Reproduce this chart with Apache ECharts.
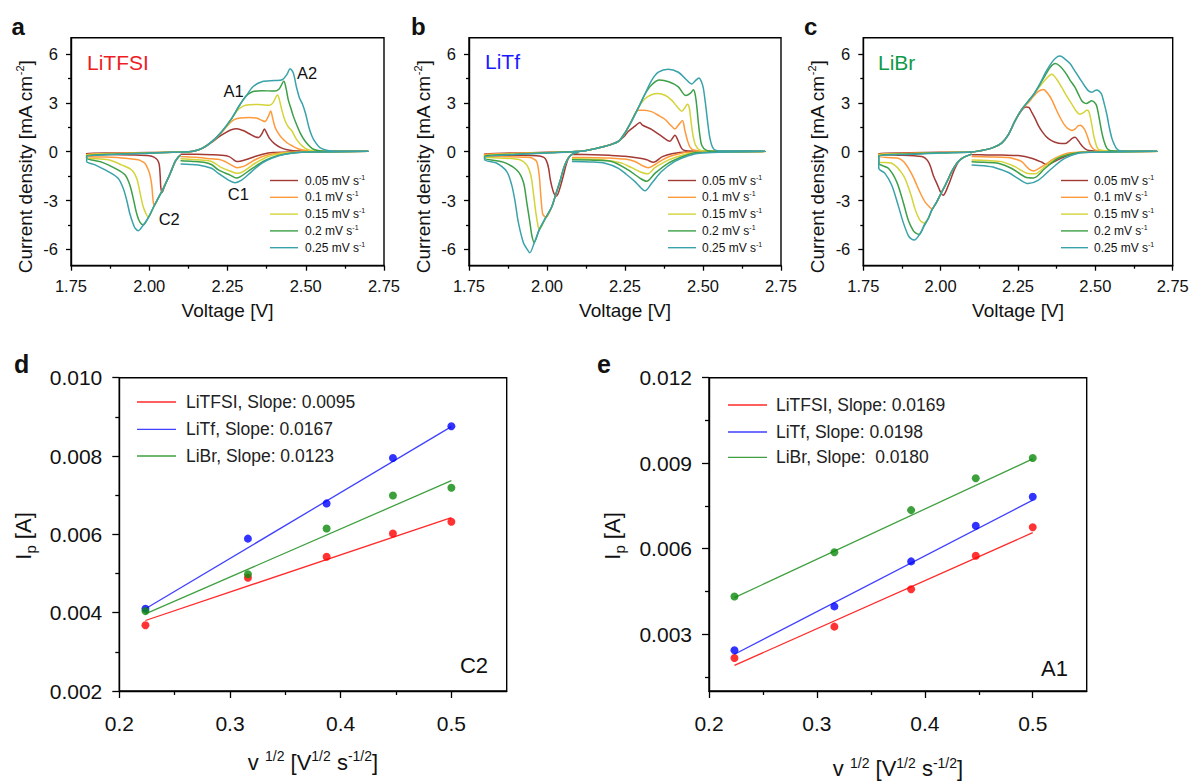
<!DOCTYPE html>
<html><head><meta charset="utf-8">
<script src="https://cdn.jsdelivr.net/npm/echarts@6/dist/echarts.min.js"></script>
<style>html,body{margin:0;padding:0;background:#fff}#c{width:1195px;height:781px}</style>
</head><body><div id="c"></div>
<script>
// ---------------- DATA ----------------
const scanRates = ['0.05', '0.1', '0.15', '0.2', '0.25'];
const electrolytes = ['LiTFSI', 'LiTf', 'LiBr'];

// Panel a: LiTFSI CV curves [V, mA cm-2]
const litfsi_005 = [[2.100,-0.20],[2.093,-0.33],[2.083,-0.60],[2.072,-1.10],[2.061,-1.60],[2.050,-2.05],[2.041,-2.50],[2.037,-2.20],[2.035,-1.50],[2.032,-0.80],[2.026,-0.50],[2.015,-0.33],[2.000,-0.25],[1.950,-0.20],[1.880,-0.17],[1.800,-0.15],
 [1.800,-0.10],[1.900,-0.08],[2.000,-0.05],[2.100,-0.02],[2.140,0.03],[2.170,0.20],[2.200,0.58],[2.220,0.88],[2.240,1.12],[2.260,1.33],[2.280,1.41],[2.300,1.30],[2.320,1.10],[2.340,0.90],[2.350,0.87],[2.360,1.10],[2.368,1.39],[2.375,1.15],[2.385,0.80],[2.400,0.50],[2.420,0.25],[2.440,0.12],[2.480,0.04],[2.600,0.02],[2.700,0.02],
 [2.700,0.00],[2.450,-0.02],[2.400,-0.05],[2.380,-0.08],[2.340,-0.28],[2.310,-0.48],[2.290,-0.58],[2.280,-0.60],[2.270,-0.50],[2.255,-0.30],[2.230,-0.22],[2.200,-0.19],[2.150,-0.16],[2.100,-0.15]];
const litfsi_01 = [[2.100,-0.20],[2.093,-0.33],[2.083,-0.60],[2.072,-1.10],[2.061,-1.60],[2.050,-2.05],[2.040,-2.45],[2.030,-2.80],[2.016,-3.30],[2.012,-2.95],[2.008,-2.05],[2.003,-1.50],[1.999,-1.22],[1.993,-0.95],[1.986,-0.71],[1.975,-0.58],[1.965,-0.50],[1.923,-0.40],[1.860,-0.33],[1.800,-0.29],
 [1.800,-0.15],[1.900,-0.10],[2.000,-0.06],[2.100,-0.02],[2.140,0.03],[2.170,0.22],[2.200,0.62],[2.230,1.15],[2.250,1.60],[2.270,1.95],[2.290,2.07],[2.320,2.10],[2.345,2.05],[2.360,1.92],[2.370,1.85],[2.380,2.15],[2.388,2.50],[2.395,2.00],[2.402,1.50],[2.410,1.20],[2.423,0.85],[2.440,0.55],[2.455,0.38],[2.475,0.18],[2.500,0.07],[2.550,0.03],[2.700,0.02],
 [2.700,0.00],[2.500,-0.02],[2.430,-0.05],[2.380,-0.19],[2.340,-0.48],[2.310,-0.82],[2.290,-0.96],[2.280,-0.98],[2.265,-0.85],[2.242,-0.60],[2.220,-0.47],[2.199,-0.44],[2.150,-0.34],[2.100,-0.29]];
const litfsi_015 = [[2.100,-0.20],[2.093,-0.33],[2.083,-0.60],[2.072,-1.10],[2.061,-1.60],[2.050,-2.05],[2.040,-2.45],[2.030,-2.80],[2.015,-3.35],[1.997,-4.02],[1.992,-3.90],[1.981,-3.40],[1.970,-2.47],[1.960,-1.64],[1.944,-1.12],[1.912,-0.81],[1.869,-0.50],[1.800,-0.35],
 [1.800,-0.20],[1.900,-0.12],[2.000,-0.07],[2.100,-0.02],[2.140,0.03],[2.170,0.22],[2.200,0.62],[2.230,1.20],[2.260,1.90],[2.280,2.50],[2.300,2.80],[2.320,2.88],[2.350,2.90],[2.385,2.85],[2.395,3.00],[2.410,3.48],[2.417,3.10],[2.423,2.60],[2.434,1.90],[2.445,1.50],[2.455,1.30],[2.471,0.74],[2.490,0.33],[2.510,0.10],[2.550,0.03],[2.700,0.02],
 [2.700,0.00],[2.500,-0.02],[2.434,-0.08],[2.380,-0.29],[2.338,-0.71],[2.300,-1.22],[2.280,-1.33],[2.260,-1.20],[2.231,-0.98],[2.199,-0.60],[2.150,-0.50],[2.100,-0.44]];
const litfsi_02 = [[2.100,-0.20],[2.093,-0.33],[2.083,-0.60],[2.072,-1.10],[2.061,-1.60],[2.050,-2.05],[2.040,-2.45],[2.030,-2.80],[2.015,-3.35],[1.997,-4.05],[1.981,-4.49],[1.970,-4.33],[1.960,-3.81],[1.949,-2.88],[1.938,-2.05],[1.923,-1.43],[1.891,-1.02],[1.848,-0.64],[1.800,-0.40],
 [1.800,-0.25],[1.900,-0.14],[2.000,-0.08],[2.100,-0.02],[2.140,0.03],[2.170,0.22],[2.200,0.62],[2.230,1.20],[2.260,1.95],[2.290,2.90],[2.310,3.43],[2.330,3.68],[2.360,3.75],[2.400,3.72],[2.415,3.85],[2.430,4.32],[2.437,3.90],[2.444,3.20],[2.452,2.70],[2.460,2.20],[2.470,1.70],[2.482,1.16],[2.500,0.60],[2.525,0.15],[2.560,0.03],[2.700,0.02],
 [2.700,0.00],[2.520,-0.02],[2.466,-0.06],[2.412,-0.23],[2.370,-0.54],[2.327,-1.06],[2.290,-1.55],[2.278,-1.62],[2.260,-1.45],[2.221,-1.12],[2.200,-0.80],[2.178,-0.67],[2.140,-0.60],[2.100,-0.56]];
const litfsi_025 = [[2.100,-0.20],[2.093,-0.33],[2.083,-0.60],[2.072,-1.10],[2.061,-1.60],[2.050,-2.05],[2.040,-2.45],[2.030,-2.80],[2.015,-3.35],[1.997,-4.05],[1.981,-4.50],[1.965,-4.85],[1.955,-4.70],[1.949,-4.45],[1.938,-3.81],[1.928,-2.98],[1.917,-2.26],[1.901,-1.64],[1.869,-1.22],[1.827,-0.81],[1.800,-0.60],
 [1.800,-0.30],[1.900,-0.16],[2.000,-0.09],[2.100,-0.02],[2.140,0.03],[2.170,0.22],[2.200,0.62],[2.230,1.20],[2.260,1.95],[2.290,2.90],[2.310,3.43],[2.332,4.00],[2.360,4.30],[2.400,4.37],[2.425,4.42],[2.440,4.75],[2.450,5.09],[2.460,4.85],[2.470,4.00],[2.480,3.30],[2.490,2.90],[2.500,2.30],[2.510,1.50],[2.520,0.95],[2.530,0.60],[2.545,0.25],[2.570,0.08],[2.600,0.03],[2.700,0.02],
 [2.700,0.00],[2.530,-0.02],[2.487,-0.03],[2.434,-0.15],[2.391,-0.40],[2.359,-0.71],[2.327,-1.22],[2.295,-1.74],[2.274,-1.90],[2.253,-1.74],[2.221,-1.33],[2.199,-1.02],[2.157,-0.81],[2.100,-0.75]];

// Panel b: LiTf CV curves
const litf_005 = [[2.100,-0.05],[2.085,-0.12],[2.072,-0.30],[2.062,-0.75],[2.052,-1.50],[2.042,-2.20],[2.035,-2.60],[2.029,-2.73],[2.022,-2.55],[2.015,-2.10],[2.010,-1.64],[2.005,-1.00],[1.998,-0.55],[1.990,-0.35],[1.967,-0.25],[1.900,-0.22],[1.800,-0.19],
 [1.800,-0.12],[1.900,-0.08],[2.000,-0.04],[2.080,0.00],[2.122,0.06],[2.186,0.33],[2.229,0.64],[2.250,1.00],[2.261,1.26],[2.282,1.57],[2.298,1.80],[2.305,1.65],[2.320,1.50],[2.335,1.37],[2.367,0.95],[2.394,0.64],[2.403,0.85],[2.410,1.01],[2.415,0.90],[2.421,0.64],[2.432,0.19],[2.445,0.06],[2.500,0.03],[2.700,0.02],
 [2.700,0.00],[2.450,-0.02],[2.400,-0.12],[2.370,-0.30],[2.341,-0.65],[2.320,-0.50],[2.293,-0.39],[2.250,-0.28],[2.200,-0.22],[2.150,-0.18],[2.080,-0.15]];
const litf_01 = [[2.100,-0.03],[2.085,-0.10],[2.072,-0.30],[2.062,-0.60],[2.052,-1.10],[2.042,-1.80],[2.030,-2.50],[2.015,-3.40],[1.996,-4.05],[1.993,-4.00],[1.986,-3.81],[1.980,-2.67],[1.975,-1.43],[1.967,-0.60],[1.955,-0.42],[1.946,-0.35],[1.850,-0.30],[1.800,-0.27],
 [1.800,-0.17],[1.900,-0.10],[2.000,-0.05],[2.080,0.00],[2.122,0.06],[2.186,0.33],[2.229,0.64],[2.250,1.16],[2.271,1.88],[2.285,2.45],[2.295,2.55],[2.310,2.55],[2.335,2.46],[2.360,2.20],[2.378,1.99],[2.395,1.65],[2.410,1.40],[2.422,1.65],[2.434,1.92],[2.442,1.30],[2.450,0.70],[2.458,0.30],[2.470,0.10],[2.500,0.03],[2.700,0.02],
 [2.700,0.00],[2.450,-0.03],[2.400,-0.25],[2.370,-0.50],[2.345,-0.80],[2.325,-0.98],[2.305,-0.85],[2.282,-0.60],[2.250,-0.45],[2.200,-0.39],[2.150,-0.37],[2.080,-0.35]];
const litf_015 = [[2.100,-0.03],[2.085,-0.10],[2.072,-0.30],[2.062,-0.60],[2.052,-1.10],[2.042,-1.80],[2.030,-2.50],[2.015,-3.40],[1.996,-4.05],[1.975,-4.78],[1.972,-4.64],[1.964,-3.71],[1.956,-2.47],[1.948,-1.43],[1.935,-0.81],[1.913,-0.50],[1.850,-0.38],[1.800,-0.33],
 [1.800,-0.22],[1.900,-0.13],[2.000,-0.06],[2.080,0.00],[2.122,0.06],[2.186,0.33],[2.229,0.64],[2.250,1.16],[2.271,1.88],[2.293,2.71],[2.314,3.25],[2.335,3.50],[2.355,3.58],[2.380,3.45],[2.400,3.15],[2.420,2.70],[2.432,2.48],[2.442,2.70],[2.450,2.92],[2.456,2.70],[2.462,1.80],[2.468,1.00],[2.476,0.40],[2.490,0.10],[2.520,0.03],[2.700,0.02],
 [2.700,0.00],[2.470,-0.05],[2.440,-0.19],[2.390,-0.50],[2.346,-0.98],[2.322,-1.36],[2.300,-1.25],[2.271,-0.98],[2.240,-0.70],[2.200,-0.55],[2.150,-0.47],[2.080,-0.44]];
const litf_02 = [[2.100,-0.03],[2.085,-0.10],[2.072,-0.30],[2.062,-0.60],[2.052,-1.10],[2.042,-1.80],[2.030,-2.50],[2.015,-3.40],[1.996,-4.05],[1.975,-4.80],[1.959,-5.57],[1.952,-5.20],[1.945,-4.33],[1.935,-3.09],[1.924,-1.84],[1.903,-1.12],[1.860,-0.64],[1.800,-0.40],
 [1.800,-0.27],[1.900,-0.15],[2.000,-0.07],[2.080,0.00],[2.122,0.06],[2.186,0.33],[2.229,0.64],[2.250,1.16],[2.271,1.88],[2.293,2.71],[2.314,3.54],[2.335,4.10],[2.360,4.40],[2.390,4.30],[2.420,4.00],[2.445,3.45],[2.460,3.60],[2.469,3.80],[2.475,3.50],[2.480,2.80],[2.485,1.80],[2.490,1.00],[2.496,0.40],[2.510,0.10],[2.540,0.03],[2.700,0.02],
 [2.700,0.00],[2.480,-0.05],[2.442,-0.25],[2.389,-0.70],[2.346,-1.33],[2.319,-1.82],[2.300,-1.65],[2.260,-1.12],[2.207,-0.60],[2.150,-0.52],[2.080,-0.50]];
const litf_025 = [[2.100,-0.03],[2.085,-0.10],[2.072,-0.30],[2.062,-0.60],[2.052,-1.10],[2.042,-1.80],[2.030,-2.50],[2.015,-3.40],[1.996,-4.05],[1.975,-4.80],[1.959,-5.60],[1.945,-6.20],[1.935,-5.95],[1.924,-5.57],[1.908,-4.33],[1.898,-3.09],[1.887,-2.05],[1.871,-1.22],[1.839,-0.71],[1.800,-0.50],
 [1.800,-0.32],[1.900,-0.17],[2.000,-0.08],[2.080,0.00],[2.122,0.06],[2.186,0.33],[2.229,0.64],[2.250,1.16],[2.271,1.88],[2.293,2.71],[2.314,3.54],[2.335,4.37],[2.357,4.88],[2.389,5.07],[2.421,4.88],[2.445,4.45],[2.464,4.16],[2.475,4.35],[2.487,4.53],[2.495,4.30],[2.501,3.90],[2.507,3.10],[2.512,2.30],[2.517,1.50],[2.522,0.85],[2.528,0.40],[2.535,0.15],[2.550,0.05],[2.700,0.03],
 [2.700,0.00],[2.496,-0.08],[2.453,-0.25],[2.410,-0.60],[2.367,-1.22],[2.335,-1.95],[2.314,-2.40],[2.295,-2.10],[2.282,-1.84],[2.255,-1.40],[2.229,-1.02],[2.186,-0.71],[2.140,-0.63],[2.080,-0.60]];

// Panel c: LiBr CV curves
const libr_005 = [[2.100,-0.15],[2.079,-0.30],[2.063,-0.50],[2.046,-1.02],[2.025,-2.06],[2.008,-2.68],[2.000,-2.50],[1.990,-2.05],[1.976,-1.44],[1.968,-0.95],[1.960,-0.61],[1.950,-0.40],[1.939,-0.30],[1.850,-0.20],[1.800,-0.15],
 [1.800,-0.10],[1.900,-0.07],[2.000,-0.04],[2.100,-0.02],[2.125,0.05],[2.165,0.22],[2.197,0.53],[2.219,1.05],[2.240,1.88],[2.262,2.55],[2.275,2.75],[2.285,2.72],[2.295,2.40],[2.305,2.05],[2.316,1.60],[2.327,1.26],[2.340,0.95],[2.353,0.74],[2.370,0.58],[2.390,0.50],[2.402,0.50],[2.415,0.65],[2.424,0.80],[2.434,0.88],[2.442,0.75],[2.450,0.53],[2.458,0.33],[2.467,0.18],[2.480,0.07],[2.520,0.03],[2.700,0.02],
 [2.700,0.00],[2.460,-0.02],[2.413,-0.22],[2.380,-0.49],[2.353,-0.75],[2.340,-0.78],[2.327,-0.65],[2.294,-0.40],[2.251,-0.24],[2.200,-0.21],[2.150,-0.20],[2.100,-0.18]];
const libr_01 = [[2.100,-0.15],[2.079,-0.30],[2.068,-0.42],[2.057,-0.60],[2.047,-0.85],[2.036,-1.20],[2.025,-1.65],[2.014,-2.10],[2.000,-2.60],[1.987,-3.10],[1.971,-3.50],[1.962,-3.35],[1.950,-3.10],[1.936,-2.60],[1.923,-2.06],[1.910,-1.50],[1.896,-1.02],[1.880,-0.60],[1.863,-0.40],[1.800,-0.30],
 [1.800,-0.15],[1.900,-0.10],[2.000,-0.05],[2.100,-0.02],[2.125,0.05],[2.165,0.22],[2.197,0.53],[2.219,1.05],[2.240,1.88],[2.262,2.60],[2.283,3.00],[2.300,3.40],[2.316,3.70],[2.332,3.82],[2.345,3.60],[2.359,3.20],[2.372,2.65],[2.386,2.10],[2.400,1.65],[2.413,1.40],[2.425,1.30],[2.435,1.40],[2.445,1.60],[2.452,1.62],[2.460,1.50],[2.467,1.30],[2.475,0.90],[2.483,0.45],[2.492,0.20],[2.505,0.08],[2.540,0.03],[2.700,0.02],
 [2.700,0.00],[2.470,-0.02],[2.410,-0.09],[2.370,-0.40],[2.327,-0.92],[2.300,-1.18],[2.285,-1.05],[2.262,-0.61],[2.240,-0.45],[2.219,-0.36],[2.160,-0.32],[2.100,-0.30]];
const libr_015 = [[2.100,-0.15],[2.079,-0.30],[2.068,-0.42],[2.057,-0.60],[2.047,-0.85],[2.036,-1.20],[2.025,-1.65],[2.014,-2.10],[2.000,-2.60],[1.987,-3.10],[1.971,-3.60],[1.960,-4.10],[1.947,-4.38],[1.940,-4.33],[1.933,-4.20],[1.925,-3.90],[1.917,-3.51],[1.901,-2.48],[1.879,-1.44],[1.842,-0.71],[1.800,-0.61],
 [1.800,-0.20],[1.900,-0.12],[2.000,-0.06],[2.100,-0.02],[2.125,0.05],[2.165,0.22],[2.197,0.53],[2.219,1.05],[2.240,1.88],[2.262,2.60],[2.283,3.10],[2.300,3.50],[2.320,4.00],[2.340,4.45],[2.359,4.75],[2.375,4.45],[2.391,3.96],[2.408,3.40],[2.424,2.92],[2.438,2.50],[2.450,2.30],[2.462,2.40],[2.472,2.55],[2.478,2.50],[2.483,2.20],[2.489,1.60],[2.494,1.05],[2.500,0.60],[2.506,0.25],[2.515,0.10],[2.550,0.03],[2.700,0.02],
 [2.700,0.00],[2.480,-0.03],[2.434,-0.08],[2.380,-0.36],[2.343,-0.82],[2.305,-1.36],[2.283,-1.34],[2.240,-0.92],[2.197,-0.61],[2.150,-0.54],[2.100,-0.51]];
const libr_02 = [[2.100,-0.15],[2.079,-0.30],[2.068,-0.42],[2.057,-0.60],[2.047,-0.85],[2.036,-1.20],[2.025,-1.65],[2.014,-2.10],[2.000,-2.60],[1.987,-3.10],[1.971,-3.60],[1.960,-4.10],[1.947,-4.50],[1.931,-5.08],[1.920,-5.00],[1.912,-4.86],[1.896,-4.24],[1.879,-3.10],[1.858,-1.85],[1.831,-1.02],[1.800,-0.71],
 [1.800,-0.25],[1.900,-0.14],[2.000,-0.07],[2.100,-0.02],[2.125,0.05],[2.165,0.22],[2.197,0.53],[2.219,1.05],[2.240,1.88],[2.262,2.60],[2.283,3.10],[2.300,3.50],[2.320,4.10],[2.340,4.75],[2.355,5.20],[2.370,5.41],[2.386,5.25],[2.402,4.89],[2.418,4.40],[2.434,3.96],[2.446,3.50],[2.456,3.13],[2.464,3.00],[2.472,2.96],[2.480,3.05],[2.488,3.13],[2.496,3.05],[2.504,2.82],[2.512,2.10],[2.520,1.26],[2.528,0.65],[2.537,0.22],[2.550,0.06],[2.580,0.03],[2.700,0.02],
 [2.700,0.00],[2.490,-0.03],[2.434,-0.09],[2.380,-0.40],[2.337,-1.03],[2.300,-1.61],[2.273,-1.55],[2.230,-1.03],[2.186,-0.71],[2.140,-0.65],[2.100,-0.62]];
const libr_025 = [[2.100,-0.15],[2.079,-0.30],[2.068,-0.42],[2.057,-0.60],[2.047,-0.85],[2.036,-1.20],[2.025,-1.65],[2.014,-2.10],[2.000,-2.60],[1.987,-3.10],[1.971,-3.60],[1.960,-4.10],[1.947,-4.55],[1.931,-5.10],[1.915,-5.42],[1.905,-5.35],[1.896,-5.17],[1.879,-4.34],[1.863,-3.31],[1.842,-2.06],[1.820,-1.33],[1.800,-1.02],
 [1.800,-0.30],[1.900,-0.16],[2.000,-0.08],[2.100,-0.02],[2.125,0.05],[2.165,0.22],[2.197,0.53],[2.219,1.05],[2.240,1.88],[2.262,2.60],[2.283,3.10],[2.300,3.50],[2.320,4.15],[2.340,4.90],[2.360,5.50],[2.375,5.80],[2.386,5.87],[2.400,5.72],[2.418,5.41],[2.434,4.95],[2.450,4.48],[2.465,4.05],[2.477,3.75],[2.488,3.65],[2.496,3.72],[2.504,3.79],[2.512,3.72],[2.520,3.54],[2.528,3.00],[2.537,2.30],[2.545,1.50],[2.553,0.85],[2.561,0.45],[2.569,0.18],[2.580,0.06],[2.620,0.03],[2.700,0.02],
 [2.700,0.00],[2.500,-0.03],[2.445,-0.09],[2.402,-0.40],[2.359,-1.03],[2.316,-1.75],[2.283,-1.96],[2.251,-1.65],[2.219,-1.28],[2.176,-0.98],[2.140,-0.87],[2.100,-0.82]];

// Panels d/e: square root of scan rate [V^1/2 s^-1/2] and peak currents [A]
const sqrtScanRate = [0.2236, 0.3162, 0.3873, 0.4472, 0.5];
const c2_litfsi = [0.00368, 0.00489, 0.00543, 0.00602, 0.00632];
const c2_litf   = [0.00410, 0.00589, 0.00679, 0.00795, 0.00876];
const c2_libr   = [0.00404, 0.00498, 0.00615, 0.00699, 0.00719];
const a1_litfsi = [0.00216, 0.00326, 0.00457, 0.00575, 0.00675];
const a1_litf   = [0.00243, 0.00397, 0.00555, 0.00680, 0.00782];
const a1_libr   = [0.00432, 0.00587, 0.00735, 0.00847, 0.00918];
// linear fit values at first and last sqrt scan rate
const fitX = [0.2236, 0.5];
const c2_fit_litfsi = [0.00380, 0.00643];
const c2_fit_litf   = [0.00410, 0.00875];
const c2_fit_libr   = [0.00397, 0.00737];
const a1_fit_litfsi = [0.00190, 0.00656];
const a1_fit_litf   = [0.00229, 0.00770];
const a1_fit_libr   = [0.00428, 0.00915];
const c2_slopes = ['0.0095', '0.0167', '0.0123'];
const a1_slopes = ['0.0169', '0.0198', '\u00a00.0180'];

// tick labels
const cvXTicks = [1.75, 2.00, 2.25, 2.50, 2.75];
const cvYTicks = [-6, -3, 0, 3, 6];
const ipXTicks = [0.2, 0.3, 0.4, 0.5];
const c2YTicks = [0.002, 0.004, 0.006, 0.008, 0.010];
const a1YTicks = [0.003, 0.006, 0.009, 0.012];

// ---------------- STYLE / LAYOUT ----------------
const FONT = '"Liberation Sans", Arimo, Arial, Helvetica, sans-serif';
const rateColors = ['#a23a36', '#ff9a3c', '#d4d43a', '#3d9f47', '#3aa2aa'];
const ionColors = {pt: ['#ff0000', '#0000ff', '#0b8a0b'], fit: ['#ff2a2a', '#4040ff', '#40a040']};
const titleColors = ['#ee1c25', '#1a1aff', '#0f9a48'];

const cvSets = [
  [litfsi_005, litfsi_01, litfsi_015, litfsi_02, litfsi_025],
  [litf_005, litf_01, litf_015, litf_02, litf_025],
  [libr_005, libr_01, libr_015, libr_02, libr_025]
];
const grids = [
  {left: 71, top: 37.7, width: 313, height: 228},
  {left: 469, top: 37.7, width: 312, height: 228},
  {left: 863.3, top: 37.7, width: 309.4, height: 228},
  {left: 119.3, top: 377.7, width: 387.4, height: 313.3},
  {left: 709, top: 377.7, width: 377.7, height: 313.3}
];

const xAxes = [], yAxes = [];
function mkAxis(dim, g, s, main) {
  return {
    type: 'value', gridIndex: g, min: s.min, max: s.max,
    position: dim === 'x' ? 'bottom' : 'left',
    axisLine: {show: main, onZero: false, lineStyle: {color: '#000', width: 1.4}},
    axisTick: {show: true, inside: false, customValues: main ? s.major : s.minor, length: main ? s.len : s.mlen, lineStyle: {color: '#000', width: 1.3}},
    axisLabel: {show: main, customValues: s.major, formatter: s.fmt, fontSize: s.font, fontFamily: FONT, color: '#111', margin: s.margin, hideOverlap: false, showMinLabel: true, showMaxLabel: true},
    splitLine: {show: false}, minorTick: {show: false}
  };
}
function addAxes(g, xs, ys) {
  xAxes.push(mkAxis('x', g, xs, true), mkAxis('x', g, xs, false));
  yAxes.push(mkAxis('y', g, ys, true), mkAxis('y', g, ys, false));
}
for (let g = 0; g < 3; g++) {
  addAxes(g,
    {min: 1.75, max: 2.75, major: cvXTicks, minor: [1.875, 2.125, 2.375, 2.625], fmt: v => v.toFixed(2), font: 16.5, len: 5, mlen: 3, margin: 12},
    {min: -7, max: 7, major: cvYTicks, minor: [-4.5, -1.5, 1.5, 4.5], fmt: v => String(v), font: 16.5, len: 5, mlen: 3, margin: 13});
}
addAxes(3,
  {min: 0.2, max: 0.55, major: ipXTicks, minor: [0.25, 0.35, 0.45], fmt: v => v.toFixed(1), font: 21, len: 7, mlen: 4, margin: 22},
  {min: 0.002, max: 0.010, major: c2YTicks, minor: [0.003, 0.005, 0.007, 0.009], fmt: v => v.toFixed(3), font: 21, len: 7, mlen: 4, margin: 17});
addAxes(4,
  {min: 0.2, max: 0.55, major: ipXTicks, minor: [0.25, 0.35, 0.45], fmt: v => v.toFixed(1), font: 21, len: 7, mlen: 4, margin: 22},
  {min: 0.001, max: 0.012, major: a1YTicks, minor: [0.0015, 0.0045, 0.0075, 0.0105], fmt: v => v.toFixed(3), font: 21, len: 7, mlen: 4, margin: 17});

// ---------------- SERIES ----------------
const series = [];
cvSets.forEach((set, p) => {
  set.forEach((curve, i) => {
    series.push({
      type: 'line', name: electrolytes[p] + ' ' + scanRates[i] + ' mV/s',
      xAxisIndex: p * 2, yAxisIndex: p * 2, data: curve,
      showSymbol: false, symbol: 'none', smooth: 0.3,
      lineStyle: {width: 1.5, color: rateColors[i]}, z: 2 + i, animation: false
    });
  });
});
function ipSeries(g, pts, fits) {
  fits.forEach((f, k) => series.push({
    type: 'line', name: electrolytes[k] + ' fit', xAxisIndex: g * 2, yAxisIndex: g * 2,
    data: fitX.map((x, j) => [x, f[j]]), showSymbol: false, symbol: 'none',
    lineStyle: {width: 1.3, color: ionColors.fit[k]}, z: 2
  }));
  pts.forEach((arr, k) => series.push({
    type: 'scatter', name: electrolytes[k], xAxisIndex: g * 2, yAxisIndex: g * 2,
    data: sqrtScanRate.map((x, j) => [x, arr[j]]), symbol: 'circle', symbolSize: 8,
    itemStyle: {color: ionColors.pt[k]}, z: 3
  }));
}
ipSeries(3, [c2_litfsi, c2_litf, c2_libr], [c2_fit_litfsi, c2_fit_litf, c2_fit_libr]);
ipSeries(4, [a1_litfsi, a1_litf, a1_libr], [a1_fit_litfsi, a1_fit_litf, a1_fit_libr]);

// ---------------- TEXT / GRAPHICS ----------------
const G = [];
function T(x, y, text, size, opt) {
  opt = opt || {};
  const st = {text: text, fill: opt.color || '#111', fontSize: size, fontFamily: FONT,
    fontWeight: opt.bold ? 'bold' : 'normal', align: opt.align || 'left', verticalAlign: 'middle'};
  if (opt.rich) st.rich = opt.rich;
  G.push({type: 'text', x: x, y: y, rotation: opt.rot || 0, silent: true, z: 100, style: st});
}
function L(x1, y1, x2, y2, color, w) {
  G.push({type: 'line', silent: true, z: 100, shape: {x1: x1, y1: y1, x2: x2, y2: y2}, style: {stroke: color, lineWidth: w}});
}
function richSup(base, lh, sup, slh) {
  return {
    b: {fontSize: base, lineHeight: lh, fontFamily: FONT, fill: '#111'},
    s: {fontSize: sup, lineHeight: slh, fontFamily: FONT, fill: '#111', verticalAlign: 'top'}
  };
}

// panel letters
T(11.5, 26.5, 'a', 24, {bold: true});
T(411, 26.5, 'b', 24, {bold: true});
T(804, 26.5, 'c', 24, {bold: true});
T(14, 364, 'd', 25, {bold: true});
T(597, 364, 'e', 25, {bold: true});

// electrolyte labels
T(87, 62.5, 'LiTFSI', 21, {color: titleColors[0]});
T(485, 61.5, 'LiTf', 21, {color: titleColors[1]});
T(878, 62.5, 'LiBr', 21, {color: titleColors[2]});

// peak annotations
T(233.5, 91, 'A1', 16.5, {align: 'center'});
T(307, 72.5, 'A2', 16.5, {align: 'center'});
T(238.3, 194.2, 'C1', 16.5, {align: 'center'});
T(169.2, 219.2, 'C2', 16.5, {align: 'center'});
T(488, 665, 'C2', 22, {align: 'right'});
T(1068, 668, 'A1', 22, {align: 'right'});

// CV legends
const legX = [[270, 298, 305], [668, 696, 702], [1061, 1088, 1094]];
const rSmall = richSup(12, 14, 7, 7);
legX.forEach(lx => {
  scanRates.forEach((r, i) => {
    const y = 180.5 + 16.8 * i;
    L(lx[0], y, lx[1], y, rateColors[i], 1.4);
    T(lx[2], y, '{b|' + r + ' mV s}{s|-1}', 12, {rich: rSmall});
  });
});

// Ip legends
function ipLegend(x1, x2, tx, ys, slopes) {
  electrolytes.forEach((el, k) => {
    L(x1, ys[k], x2, ys[k], ionColors.fit[k], 1.3);
    T(tx, ys[k], el + ', Slope: ' + slopes[k], 17.5, {color: '#222'});
  });
}
ipLegend(137, 176, 186, [402, 429.3, 456], c2_slopes);
ipLegend(728, 767, 776, [405, 432, 457.3], a1_slopes);

// axis titles
const rMid = richSup(19, 22, 11, 11);
[[25, 167], [423.5, 167], [817, 167]].forEach(p => {
  T(p[0], p[1], '{b|Current density [mA cm}{s|-2}{b|]}', 19, {rot: Math.PI / 2, align: 'center', rich: rMid});
});
[227.5, 625, 1018].forEach(x => T(x, 310, 'Voltage [V]', 19, {align: 'center'}));
const rBig = richSup(22, 26, 14, 10);
const rSub = {
  b: {fontSize: 22, lineHeight: 30, fontFamily: FONT, fill: '#111'},
  p: {fontSize: 15, lineHeight: 14, fontFamily: FONT, fill: '#111', verticalAlign: 'bottom'}
};
T(23, 536, '{b|I}{p|p}{b| [A]}', 22, {rot: Math.PI / 2, align: 'center', rich: rSub});
T(612, 536, '{b|I}{p|p}{b| [A]}', 22, {rot: Math.PI / 2, align: 'center', rich: rSub});
T(313, 762, '{b|v }{s|1/2}{b| [V}{s|1/2}{b| s}{s|-1/2}{b|]}', 22, {align: 'center', rich: rBig});
T(898, 768.5, '{b|v }{s|1/2}{b| [V}{s|1/2}{b| s}{s|-1/2}{b|]}', 22, {align: 'center', rich: rBig});

// ---------------- CHART ----------------
const chart = echarts.init(document.getElementById('c'), null, {renderer: 'svg', width: 1195, height: 781});
chart.setOption({
  backgroundColor: '#ffffff',
  animation: false,
  textStyle: {fontFamily: FONT},
  grid: grids.map(g => Object.assign({show: true, borderColor: '#000', borderWidth: 1.4, backgroundColor: 'transparent', containLabel: false}, g)),
  xAxis: xAxes,
  yAxis: yAxes,
  series: series,
  graphic: G
});
</script>
</body></html>
